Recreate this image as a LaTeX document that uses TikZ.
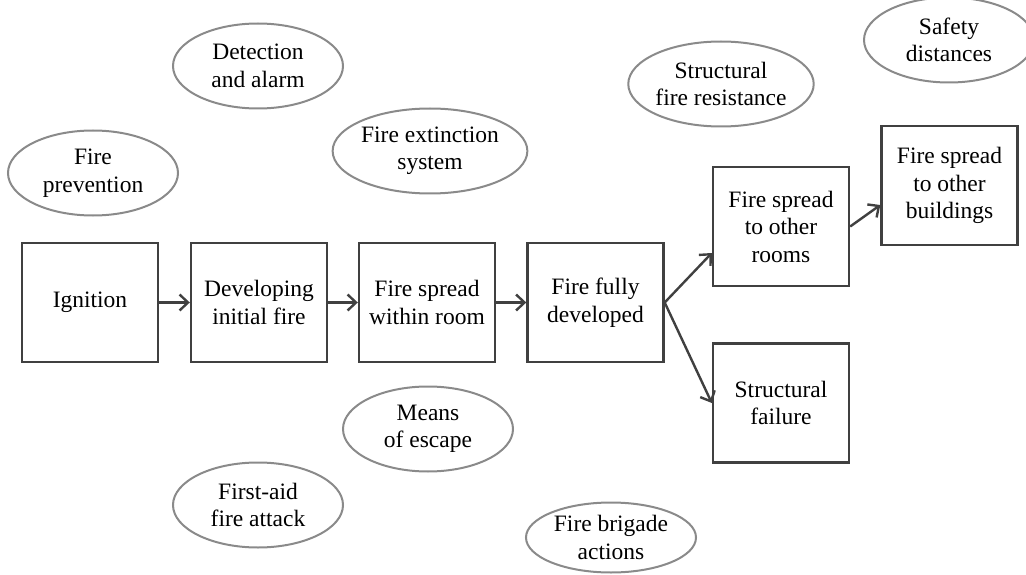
\documentclass[tikz,border=0pt]{standalone}
\usepackage{fontspec}
\setmainfont{Liberation Serif}
\usetikzlibrary{arrows.meta,shapes.geometric}
\definecolor{boxline}{HTML}{404040}
\definecolor{ovalline}{HTML}{8A8A8A}
\begin{document}
\begin{tikzpicture}[x=1pt,y=-1pt,
  every node/.style={font=\fontsize{23.5}{27.5}\selectfont, align=center, text=black},
  stage/.style={draw=boxline, line width=2.4pt, minimum width=136pt, minimum height=119pt, inner sep=0pt},
  measure/.style={draw=ovalline, line width=2pt, ellipse, minimum width=170pt, minimum height=85pt, inner sep=0pt},
  flow/.style={draw=boxline, line width=2.4pt, -{Straight Barb[length=8.5pt,width=16pt,line width=2.4pt]}}
]
\useasboundingbox (0,0) rectangle (1026,575);

% stages of fire development
\node[stage] (ign)  at (90,302.5)  {Ignition};
\node[stage] (dev)  at (259,302.5) {Developing\\initial fire};
\node[stage] (room) at (427,302.5) {Fire spread\\within room};
\node[stage] (full) at (595.5,302.5) {Fire fully\\developed};
\node[stage] (rooms) at (781,226.5) {Fire spread\\to other\\rooms};
\node[stage] (fail)  at (781,403)   {Structural\\failure};
\node[stage] (bldg)  at (949.5,185.5) {Fire spread\\to other\\buildings};

% protective measures
\node[measure] (prev)  at (93,173)  {Fire\\prevention};
\node[measure] (det)   at (258,66)  {Detection\\and alarm};
\node[measure] (ext)   at (430,151) {Fire extinction\\system};
\node[measure] (res)   at (721,84)  {Structural\\fire resistance};
\node[measure] (safe)  at (949,40)  {Safety\\distances};
\node[measure] (esc)   at (428,429) {Means\\of escape};
\node[measure] (aid)   at (258,505) {First-aid\\fire attack};
\node[measure, minimum height=70pt] (brig) at (611,537.5) {Fire brigade\\actions};

% connectors
\draw[flow] (ign) -- (dev);
\draw[flow] (dev) -- (room);
\draw[flow] (room) -- (full);
\draw[flow] (full.east) -- (rooms.west |- 0,253);
\draw[flow] (full.east) -- (fail.west);
\draw[flow] (rooms.east) -- (bldg.west |- 0,205);
\end{tikzpicture}
\end{document}
